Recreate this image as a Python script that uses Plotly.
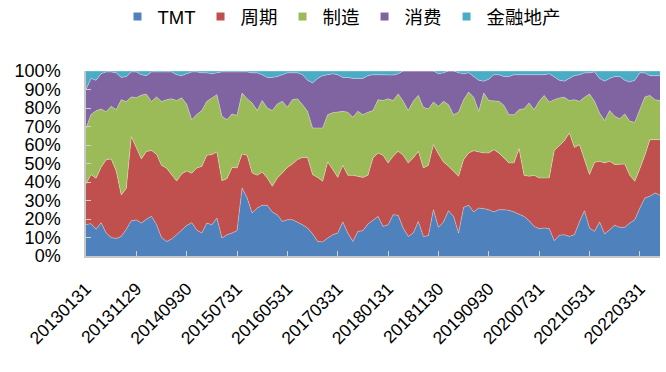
import pandas as pd
import plotly.graph_objects as go

# Month-end trading dates (115 months, Jan-2013 .. Jul-2022)
try:
    _d = pd.date_range(start="2013-01-31", periods=115, freq="BME")
except Exception:
    _d = pd.date_range(start="2013-01-31", periods=115, freq="BM")
dates = [d.strftime("%Y%m%d") for d in _d]

tick_labels = ["20130131", "20131129", "20140930", "20150731", "20160531", "20170331",
               "20180131", "20181130", "20190930", "20200731", "20210531", "20220331"]

tmt = [17, 17.5, 14.5, 18, 12.5, 10, 9.5, 10.5, 14.5, 19, 19.5, 17.8, 19.8, 21.5, 17, 10, 7.8, 9.2, 11.5, 13.8,
       16.5, 18, 14, 12.4, 17.8, 16.9, 20.5, 9.7, 11.5, 12.4, 13.7, 36.8, 31.4, 23.2, 25.9, 27.4, 27.4, 23.8, 22.3, 18.7,
       19.6, 19.6, 18.4, 16.9, 15.1, 12, 7.9, 7.6, 9.7, 11.5, 12.4, 18.4, 12.4, 7.9, 13.3, 13.7, 17.3, 19.6, 21.4, 16,
       16.9, 22.3, 22, 15.1, 10.6, 12.4, 18.7, 10.6, 11, 25, 15.5, 18.4, 24.5, 21.4, 12.4, 26.3, 27.4, 23.8, 25.9, 25.6,
       25, 23.8, 25, 25, 24.7, 23.8, 22.7, 21.4, 19.1, 16, 14.8, 15.1, 14.8, 8.3, 11.2, 11.5, 10.6, 11.5, 18.4, 24.5,
       15.1, 13.3, 18.4, 11.9, 14.2, 16.6, 15.5, 15.5, 17.8, 19.6, 25.9, 31.4, 32.3, 34.1, 32.8]
cyclical = [22, 26.5, 27.5, 30, 39.5, 42.5, 36.5, 22.5, 22, 45.5, 39, 34.7, 36.7, 35.5, 38, 39, 39.7, 35.1, 29, 30.5,
            29.5, 26.7, 33.6, 36, 36.6, 37.9, 35.7, 31, 30.3, 35.5, 33.9, 18.3, 23, 21.7, 17.7, 18, 14.8, 13.9, 19.9, 26.2,
            28.3, 30.1, 33.7, 36.4, 38.2, 32, 34.6, 32.8, 41.1, 35.2, 30.1, 30.6, 31.2, 35.7, 29.8, 28.8, 26.3, 33.4, 34.3, 38.4,
            33.4, 31.6, 34.6, 39.3, 39.7, 40.6, 37.9, 37, 38, 35.2, 39.6, 32.4, 24, 24.4, 30.7, 25.8, 28.3, 33.1, 30.3, 30.1,
            30.7, 33.7, 30.7, 28, 25.6, 26.5, 35.3, 22.2, 24, 27.6, 27.4, 27.1, 27.4, 48.7, 48.6, 50.8, 55.9, 47.2, 41.8, 27.6,
            28.9, 37.3, 32.8, 38.4, 37, 32.8, 33.9, 34.2, 25.8, 20.8, 21.3, 23, 30.6, 28.8, 30.1]
manufacturing = [30, 32.5, 36.5, 31.5, 26, 28.5, 33, 51.5, 47, 21.5, 27, 34.5, 31, 26.5, 31, 34.5, 37, 40.7, 43.5, 41.2,
                 36, 29, 28.9, 30.2, 29.2, 30.6, 31, 34.8, 31.9, 28.9, 28.4, 33, 30.6, 37.8, 35, 38.6, 37.8, 40.9, 40, 38.7,
                 32.5, 34.8, 32.9, 28.5, 24.9, 25.2, 26.7, 28.8, 25.6, 30.8, 35.3, 29.2, 34.1, 31.4, 35.1, 33.9, 34.1, 25.6, 28.8, 29.6,
                 34.7, 30.1, 31, 29.2, 28.3, 30.6, 30.2, 32.8, 30.5, 23, 25.8, 32.8, 33.3, 30.6, 34.7, 32.4, 32.9, 28.9, 22, 32.4,
                 28.3, 26.1, 27.9, 28.4, 26.1, 26.1, 21.1, 36, 39.6, 35.5, 41.4, 44.6, 41, 27.5, 25.6, 23.5, 17.5, 25.8, 23.4, 33.7,
                 43.6, 33, 26.1, 22.9, 27.4, 26.1, 24.8, 27.1, 29.2, 31.9, 32.3, 31.6, 23.9, 21.6, 21.1]
consumer = [21, 19.5, 16.5, 19, 21.5, 18.5, 20, 12, 13.5, 13.5, 14, 11, 10, 16, 13.5, 16, 15, 14.5, 14, 12,
            16.5, 25.8, 23, 20.4, 15.4, 13.1, 11.8, 24, 25.8, 22.7, 23.5, 11.4, 14.5, 16.3, 20.4, 14, 16.5, 17.9, 14.8, 14.4,
            18.6, 14.5, 14, 16.2, 16.8, 24.3, 26.8, 28.3, 21.6, 21, 20.2, 18.3, 18.8, 21, 17.8, 19.6, 19.8, 19.4, 13.5, 14,
            13, 13.8, 10.9, 16.4, 21.4, 16.4, 13.2, 19.6, 20.5, 16.8, 17.6, 15.4, 18.2, 23.6, 21.2, 14, 10.4, 11.2, 16.8, 6.4,
            11.5, 14.4, 14.4, 15.6, 20.6, 21.6, 18.9, 18.4, 15.3, 18.7, 14.2, 11.2, 15.3, 12, 9.6, 8.7, 12, 13, 14.4, 13.2,
            11.4, 15.9, 18.7, 21.3, 17.4, 21.5, 22.8, 18.2, 21.2, 22.7, 19.5, 13, 10.7, 13, 13.5]
finance_re = [10, 4, 5, 1.5, 0.5, 0.5, 1, 3.5, 3, 0.5, 0.5, 2, 2.5, 0.5, 0.5, 0.5, 0.5, 0.5, 2, 2.5,
              1.5, 0.5, 0.5, 1, 1, 1.5, 1, 0.5, 0.5, 0.5, 0.5, 0.5, 0.5, 1, 1, 2, 3.5, 3.5, 3, 2,
              1, 1, 1, 2, 5, 6.5, 4, 2.5, 2, 1.5, 2, 3.5, 3.5, 4, 4, 4, 2.5, 2, 2, 2,
              2, 2.2, 1.5, 0, 0, 0, 0, 0, 0, 0, 1.5, 1, 0, 0, 1, 1.5, 1, 3, 5, 5.5,
              4.5, 2, 2, 3, 3, 2, 2, 2, 2, 2.2, 2.2, 2, 1.5, 3.5, 5, 5.5, 4, 2.5, 2, 1,
              1, 0.5, 4, 5.5, 4, 3, 3, 5, 6, 5, 1, 1, 2.5, 2.5, 2.5]

series = [
    ("TMT", tmt, "#4F81BD"),
    ("周期", cyclical, "#C0504D"),
    ("制造", manufacturing, "#9BBB59"),
    ("消费", consumer, "#8064A2"),
    ("金融地产", finance_re, "#4BACC6"),
]

FONT = "Liberation Sans, Arial, Noto Sans CJK SC, sans-serif"

fig = go.Figure()
for name, vals, col in series:
    fig.add_trace(go.Scatter(
        x=dates, y=vals, name=name, mode="lines", stackgroup="one", groupnorm="percent",
        line=dict(width=0.6, color="rgba(255,255,255,0.55)"), fillcolor=col,
        showlegend=False, hoverinfo="skip"))
for name, vals, col in series:
    fig.add_trace(go.Scatter(
        x=[None], y=[None], name=name, mode="markers",
        marker=dict(symbol="square", size=8, color=col), showlegend=True))

n = len(dates)
fig.update_layout(
    width=666, height=372,
    margin=dict(l=86, r=6, t=71, b=116, autoexpand=False),
    paper_bgcolor="white", plot_bgcolor="white",
    font=dict(family=FONT, size=18, color="#000000"),
    showlegend=True,
    legend=dict(orientation="h", traceorder="normal", xref="container", yref="container",
                x=342 / 666, xanchor="center", y=1 - 17 / 372, yanchor="middle",
                font=dict(size=18.5, family=FONT),
                itemwidth=30, tracegroupgap=0, bgcolor="rgba(0,0,0,0)"),
    xaxis=dict(type="category", range=[0, n - 1],
               tickvals=[dates[i] for i in range(0, n, 10)], ticktext=tick_labels,
               tickangle=-45, ticks="inside", ticklen=5, tickcolor="#d0d0d0",
               showline=True, linecolor="#c8c8c8", linewidth=1.5, showgrid=False, zeroline=False,
               ticklabelstandoff=14, tickfont=dict(size=17.5)),
    yaxis=dict(range=[0, 100], dtick=10, ticksuffix="%", ticks="inside", ticklen=5, tickcolor="#d0d0d0",
               showline=True, linecolor="#c8c8c8", linewidth=1.5, showgrid=False, zeroline=False,
               ticklabelstandoff=20, tickfont=dict(size=18)),
)

fig.write_html("out.html", config={"displayModeBar": False},
               post_script="document.body.style.margin='0';document.body.style.overflow='hidden';")
